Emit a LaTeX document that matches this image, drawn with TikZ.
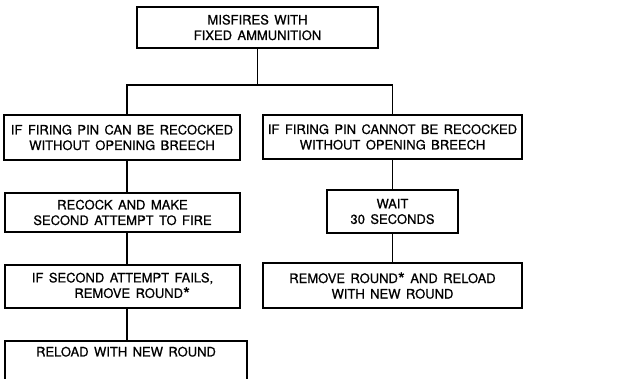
\documentclass[tikz,border=0pt]{standalone}
\usepackage{fontspec}
\setmainfont{TeX Gyre Heros}[WordSpace=1.5, FakeBold=0.7]
\usepackage{tikz}
\usetikzlibrary{positioning, calc}
\tikzset{
    stepbox/.style  = {draw, line width=1.5pt, align=center, inner sep=0pt,
                       font=\fontsize{13}{15.5}\selectfont},
    link/.style     = {line width=1.4pt},
}
\newcommand{\starmark}{\raisebox{-0.35ex}{\fontsize{18}{15}\selectfont *}}

\begin{document}
\begin{tikzpicture}[x=1pt, y=-1pt]
\useasboundingbox (0,0) rectangle (618,379);

% top of the chart
\node[stepbox, minimum width=241pt, minimum height=41pt] (misfire) at (257.5,27.5)
    {MISFIRES WITH\\FIXED AMMUNITION};

% left column: pin can be recocked
\node[stepbox, minimum width=236pt, minimum height=45pt] (canpin) at (122,137.5)
    {IF FIRING PIN CAN BE RECOCKED\\WITHOUT OPENING BREECH};
\node[stepbox, minimum width=235pt, minimum height=39pt] (recock) at (122.5,212.5)
    {RECOCK AND MAKE\\SECOND ATTEMPT TO FIRE};
\node[stepbox, minimum width=235pt, minimum height=43pt] (fails) at (122.5,286.5)
    {IF SECOND ATTEMPT FAILS,\\\hspace*{1.5em}REMOVE ROUND\starmark};
\node[stepbox, minimum width=242pt, anchor=north, inner ysep=6pt,
      text depth=34pt] (reload) at (126,340)
    {RELOAD WITH NEW ROUND};

% right column: pin cannot be recocked
\node[stepbox, minimum width=259pt, minimum height=44pt] (cannotpin) at (392.5,137)
    {IF FIRING PIN CANNOT BE RECOCKED\\WITHOUT OPENING BREECH};
\node[stepbox, minimum width=131pt, minimum height=43pt] (wait) at (392.5,211.5)
    {WAIT\\30 SECONDS};
\node[stepbox, minimum width=259pt, minimum height=45pt] (remove) at (392.5,285.5)
    {REMOVE ROUND\starmark{} AND RELOAD\\WITH NEW ROUND};

\coordinate (split) at (257.5,85);
\coordinate (leftx) at (127,0);

\draw[link] (misfire.south) -- (split);
\draw[link] (split) -| (canpin.north -| leftx);
\draw[link] (split) -| (cannotpin.north);
\draw[link] (canpin.south -| leftx) -- (recock.north -| leftx);
\draw[link] (recock.south -| leftx) -- (fails.north -| leftx);
\draw[link] (fails.south -| leftx) -- (reload.north -| leftx);
\draw[link] (cannotpin.south) -- (wait.north);
\draw[link] (wait.south) -- (remove.north);

\end{tikzpicture}
\end{document}
